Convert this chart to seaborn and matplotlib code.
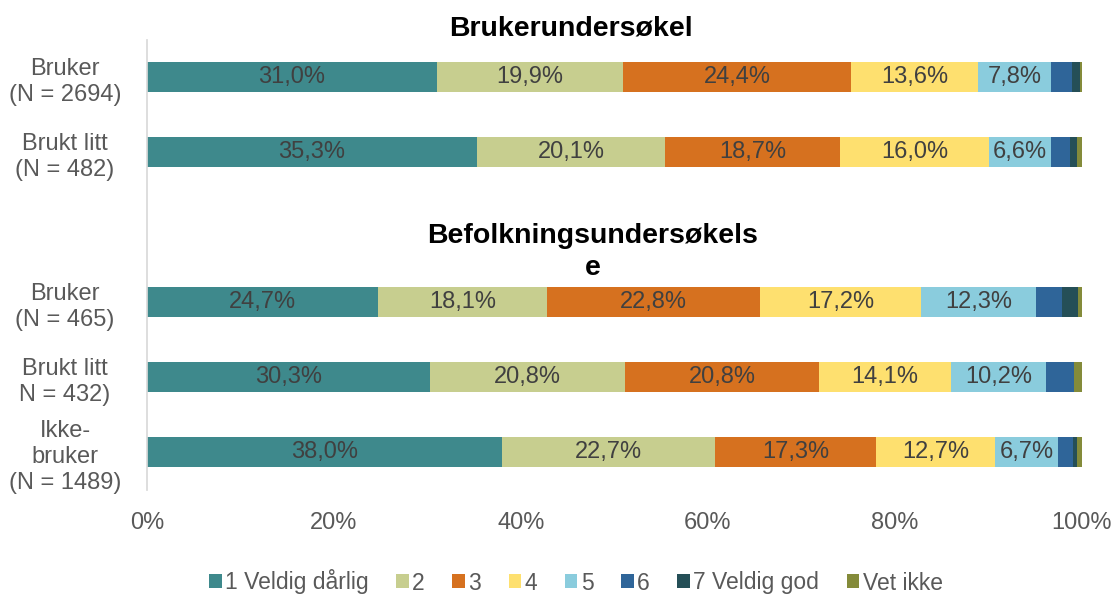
import pandas as pd
import matplotlib.pyplot as plt
import seaborn as sns
from matplotlib.patches import Patch

# data (percent)
groups = ["Bruker\n(N = 2694)", "Brukt litt\n(N = 482)", " ",
          "Bruker\n(N = 465)", "Brukt litt\nN = 432)", "Ikke-\nbruker\n(N = 1489)"]
categories = ["1 Veldig dårlig", "2", "3", "4", "5", "6", "7 Veldig god", "Vet ikke"]
colors = ["#3E898C", "#C7CE8F", "#D6711F", "#FEE06F", "#8ACCDD", "#2F6599", "#254F57", "#848B3A"]

bruker_2694 = [31.0, 19.9, 24.4, 13.6, 7.8, 2.2, 0.9, 0.2]
brukt_482 = [35.3, 20.1, 18.7, 16.0, 6.6, 2.0, 0.8, 0.5]
bruker_465 = [24.7, 18.1, 22.8, 17.2, 12.3, 2.8, 1.7, 0.4]
brukt_432 = [30.3, 20.8, 20.8, 14.1, 10.2, 3.0, 0.0, 0.8]
ikke_1489 = [38.0, 22.7, 17.3, 12.7, 6.7, 1.6, 0.5, 0.5]

rows = {groups[0]: bruker_2694, groups[1]: brukt_482, groups[3]: bruker_465,
        groups[4]: brukt_432, groups[5]: ikke_1489}

recs = []
for g, vals in rows.items():
    cum = 0
    for c, v in zip(categories, vals):
        recs.append({"group": g, "cat": c, "value": v, "start": cum, "end": cum + v})
        cum += v
df = pd.DataFrame(recs)

sns.set_theme(style="white")
plt.rcParams["font.family"] = ["Liberation Sans", "DejaVu Sans"]

fig = plt.figure(figsize=(11.16, 5.96), dpi=100)
ax = fig.add_axes([0.1317, 0.178, 0.8378, 0.755])

# stacked bars: draw cumulative ends from last category to first
for c, col in reversed(list(zip(categories, colors))):
    sub = df[df["cat"] == c]
    sns.barplot(data=sub, x="end", y="group", order=groups, color=col,
                orient="h", width=0.4, saturation=1, linewidth=0, ax=ax)

# percentage labels for first five segments
for _, r in df.iterrows():
    if r["cat"] in categories[:5]:
        ax.text((r["start"] + r["end"]) / 2, groups.index(r["group"]),
                f"{r['value']:.1f}%".replace(".", ","), ha="center", va="center",
                fontsize=17, color="#404040")

ax.set_xlim(0, 100)
ax.set_ylim(5.5, -0.5)
ax.set_xticks(range(0, 101, 20))
ax.set_xticklabels([f"{t}%" for t in range(0, 101, 20)], fontsize=17, color="#595959")
ax.set_yticks(range(len(groups)))
ax.set_yticklabels(groups, fontsize=17, color="#595959", ha="center", linespacing=1.25)
ax.tick_params(axis="y", pad=59, length=0)
ax.tick_params(axis="x", pad=16, length=0)
ax.set_xlabel("")
ax.set_ylabel("")
for s in ["top", "right", "bottom"]:
    ax.spines[s].set_visible(False)
ax.spines["left"].set_color("#D9D9D9")

fig.text(571 / 1116, 1 - 28 / 596, "Brukerundersøkel", ha="center", va="center",
         fontsize=20.5, fontweight="bold", color="black")
fig.text(593 / 1116, 1 - 252 / 596, "Befolkningsundersøkels\ne", ha="center", va="center",
         fontsize=20.5, fontweight="bold", color="black", linespacing=1.27)

handles = [Patch(facecolor=col, edgecolor="none", label=c) for c, col in zip(categories, colors)]
fig.legend(handles=handles, loc="center", bbox_to_anchor=(0.516, 1 - 582 / 596), ncol=8,
           frameon=False, fontsize=16.5, handlelength=0.55, handleheight=0.55,
           handletextpad=0.15, columnspacing=1.2, labelcolor="#595959")

fig.savefig("out.png", dpi=100)
